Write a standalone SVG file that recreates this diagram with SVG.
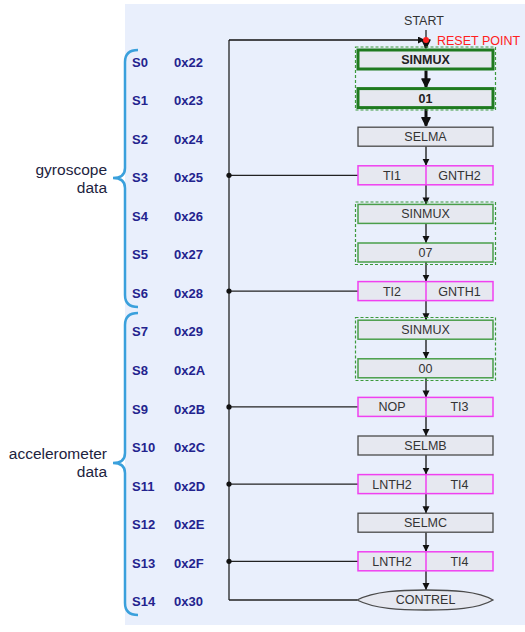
<svg xmlns="http://www.w3.org/2000/svg" width="525" height="632" viewBox="0 0 525 632">
<defs>
<style>
.panel{fill:#e9effc}
.box{fill:#e6e8f0;stroke:#4a4a4a;stroke-width:1.3}
.split{fill:#e6e8f0;stroke:#f040f0;stroke-width:1.5}
.div{stroke:#f040f0;stroke-width:1.5}
.gthick{fill:#e6e8f0;stroke:#1f7a1f;stroke-width:3}
.gthin{fill:#e6e8f0;stroke:#4a9e4a;stroke-width:1.5}
.gdash{fill:none;stroke:#3c9a3c;stroke-width:1.2;stroke-dasharray:3 2}
.bt{font-family:"Liberation Sans",Arial,sans-serif;font-size:12.5px;fill:#333;text-anchor:middle}
.btb{font-family:"Liberation Sans",Arial,sans-serif;font-size:12.5px;fill:#222;text-anchor:middle;font-weight:bold}
.rl{font-family:"Liberation Sans",Arial,sans-serif;font-size:13px;fill:#23238e;font-weight:bold}
.grp{font-family:"Liberation Sans",Arial,sans-serif;font-size:15.5px;fill:#1d2340;text-anchor:end}
.brace{fill:none;stroke:#3aa0dc;stroke-width:2.5}
.wire{fill:none;stroke:#222;stroke-width:1.3}
.arr{fill:none;stroke:#111;stroke-width:1.3;marker-end:url(#ah)}
.arrT{fill:none;stroke:#111;stroke-width:3;marker-end:url(#ahT)}
</style>
<marker id="ah" markerUnits="userSpaceOnUse" markerWidth="8" markerHeight="8" refX="7" refY="3.5" orient="auto">
<path d="M0,0 L7,3.5 L0,7 Z" fill="#111"/>
</marker>
<marker id="ahT" markerUnits="userSpaceOnUse" markerWidth="12" markerHeight="12" refX="9" refY="5" orient="auto">
<path d="M1,1 L9,5 L1,9 Z" fill="#111" stroke="#111" stroke-width="1.5" stroke-linejoin="round"/>
</marker>
</defs>

<rect class="panel" x="125" y="4" width="400" height="621"/>

<g id="group-labels">
<path class="brace" d="M138,50 Q125,50 125,62 L125,168 Q125,178 113,178 Q125,178 125,188 L125,295 Q125,307 138,307"/>
<text class="grp" x="107" y="175">gyroscope</text>
<text class="grp" x="107" y="193">data</text>
<path class="brace" d="M138,313 Q125,313 125,325 L125,453 Q125,463 113,463 Q125,463 125,473 L125,603 Q125,615 138,615"/>
<text class="grp" x="107" y="459">accelerometer</text>
<text class="grp" x="107" y="477">data</text>
</g>

<g id="row-labels">
<text class="rl" x="132" y="66.5">S0</text><text class="rl" x="174" y="66.5">0x22</text>
<text class="rl" x="132" y="105">S1</text><text class="rl" x="174" y="105">0x23</text>
<text class="rl" x="132" y="143.6">S2</text><text class="rl" x="174" y="143.6">0x24</text>
<text class="rl" x="132" y="182.2">S3</text><text class="rl" x="174" y="182.2">0x25</text>
<text class="rl" x="132" y="220.7">S4</text><text class="rl" x="174" y="220.7">0x26</text>
<text class="rl" x="132" y="259.3">S5</text><text class="rl" x="174" y="259.3">0x27</text>
<text class="rl" x="132" y="297.8">S6</text><text class="rl" x="174" y="297.8">0x28</text>
<text class="rl" x="132" y="336.4">S7</text><text class="rl" x="174" y="336.4">0x29</text>
<text class="rl" x="132" y="374.9">S8</text><text class="rl" x="174" y="374.9">0x2A</text>
<text class="rl" x="132" y="413.5">S9</text><text class="rl" x="174" y="413.5">0x2B</text>
<text class="rl" x="132" y="452">S10</text><text class="rl" x="174" y="452">0x2C</text>
<text class="rl" x="132" y="490.6">S11</text><text class="rl" x="174" y="490.6">0x2D</text>
<text class="rl" x="132" y="529.1">S12</text><text class="rl" x="174" y="529.1">0x2E</text>
<text class="rl" x="132" y="567.7">S13</text><text class="rl" x="174" y="567.7">0x2F</text>
<text class="rl" x="132" y="606.2">S14</text><text class="rl" x="174" y="606.2">0x30</text>
</g>

<g id="connectors">
<path class="wire" d="M229,600 L229,40"/>
<path class="arr" d="M229,40 L425,40"/>
<path class="wire" d="M426,30 L426,40"/>
<path class="wire" d="M229,600 L357,600"/>
<path class="wire" d="M229,175.3 L358,175.3"/>
<path class="wire" d="M229,291.1 L358,291.1"/>
<path class="wire" d="M229,406.9 L358,406.9"/>
<path class="wire" d="M229,484.1 L358,484.1"/>
<path class="wire" d="M229,561.3 L358,561.3"/>
<circle cx="229" cy="175.3" r="2.6" fill="#111"/>
<circle cx="229" cy="291.1" r="2.6" fill="#111"/>
<circle cx="229" cy="406.9" r="2.6" fill="#111"/>
<circle cx="229" cy="484.1" r="2.6" fill="#111"/>
<circle cx="229" cy="561.3" r="2.6" fill="#111"/>
<path class="arrT" d="M426,41 L426,48"/>
<path class="arrT" d="M426,70.5 L426,87"/>
<path class="arrT" d="M426,109 L426,125.7"/>
<path class="arr" d="M426,146.2 L426,165.8"/>
<path class="arr" d="M426,184.8 L426,204.4"/>
<path class="arr" d="M426,223.4 L426,243"/>
<path class="arr" d="M426,262 L426,281.6"/>
<path class="arr" d="M426,300.6 L426,320.2"/>
<path class="arr" d="M426,339.2 L426,358.8"/>
<path class="arr" d="M426,377.8 L426,397.4"/>
<path class="arr" d="M426,416.4 L426,436"/>
<path class="arr" d="M426,455 L426,474.6"/>
<path class="arr" d="M426,493.6 L426,513.2"/>
<path class="arr" d="M426,532.2 L426,551.8"/>
<path class="arr" d="M426,570.8 L426,590"/>
<circle cx="426" cy="40" r="3" fill="#ff2020"/>
</g>

<g id="start">
<text class="bt" x="424" y="25">START</text>
<text x="437" y="45" font-family="'Liberation Sans',Arial,sans-serif" font-size="12.5" fill="#ff2020">RESET POINT</text>
</g>

<g id="grp-s0-s1"><rect class="gdash" x="355.5" y="47" width="140" height="63"/></g>
<g id="grp-s4-s5"><rect class="gdash" x="355.5" y="202" width="140" height="62.5"/></g>
<g id="grp-s7-s8"><rect class="gdash" x="355.5" y="317.5" width="140" height="63"/></g>

<g id="n-s0"><rect class="gthick" x="358" y="50" width="135" height="19"/><text class="btb" x="425.5" y="64">SINMUX</text></g>
<g id="n-s1"><rect class="gthick" x="358" y="88.6" width="135" height="19"/><text class="btb" x="425.5" y="102.6">01</text></g>
<g id="n-s2"><rect class="box" x="358" y="127.2" width="135" height="19"/><text class="bt" x="425.5" y="141.2">SELMA</text></g>
<g id="n-s3"><rect class="split" x="358" y="165.8" width="135" height="19"/><line class="div" x1="426" y1="165.8" x2="426" y2="184.8"/><text class="bt" x="392" y="179.8">TI1</text><text class="bt" x="459.5" y="179.8">GNTH2</text></g>
<g id="n-s4"><rect class="gthin" x="358" y="204.4" width="135" height="19"/><text class="bt" x="425.5" y="218.4">SINMUX</text></g>
<g id="n-s5"><rect class="gthin" x="358" y="243" width="135" height="19"/><text class="bt" x="425.5" y="257">07</text></g>
<g id="n-s6"><rect class="split" x="358" y="281.6" width="135" height="19"/><line class="div" x1="426" y1="281.6" x2="426" y2="300.6"/><text class="bt" x="392" y="295.6">TI2</text><text class="bt" x="459.5" y="295.6">GNTH1</text></g>
<g id="n-s7"><rect class="gthin" x="358" y="320.2" width="135" height="19"/><text class="bt" x="425.5" y="334.2">SINMUX</text></g>
<g id="n-s8"><rect class="gthin" x="358" y="358.8" width="135" height="19"/><text class="bt" x="425.5" y="372.8">00</text></g>
<g id="n-s9"><rect class="split" x="358" y="397.4" width="135" height="19"/><line class="div" x1="426" y1="397.4" x2="426" y2="416.4"/><text class="bt" x="392" y="411.4">NOP</text><text class="bt" x="459.5" y="411.4">TI3</text></g>
<g id="n-s10"><rect class="box" x="358" y="436" width="135" height="19"/><text class="bt" x="425.5" y="450">SELMB</text></g>
<g id="n-s11"><rect class="split" x="358" y="474.6" width="135" height="19"/><line class="div" x1="426" y1="474.6" x2="426" y2="493.6"/><text class="bt" x="392" y="488.6">LNTH2</text><text class="bt" x="459.5" y="488.6">TI4</text></g>
<g id="n-s12"><rect class="box" x="358" y="513.2" width="135" height="19"/><text class="bt" x="425.5" y="527.2">SELMC</text></g>
<g id="n-s13"><rect class="split" x="358" y="551.8" width="135" height="19"/><line class="div" x1="426" y1="551.8" x2="426" y2="570.8"/><text class="bt" x="392" y="565.8">LNTH2</text><text class="bt" x="459.5" y="565.8">TI4</text></g>
<g id="n-s14"><path class="box" d="M357,600 C375,591 400,590 426,590 C452,590 478,591 493,600 C478,609 452,610 426,610 C400,610 375,609 357,600 Z"/><text class="bt" x="425.5" y="604.4">CONTREL</text></g>
</svg>
